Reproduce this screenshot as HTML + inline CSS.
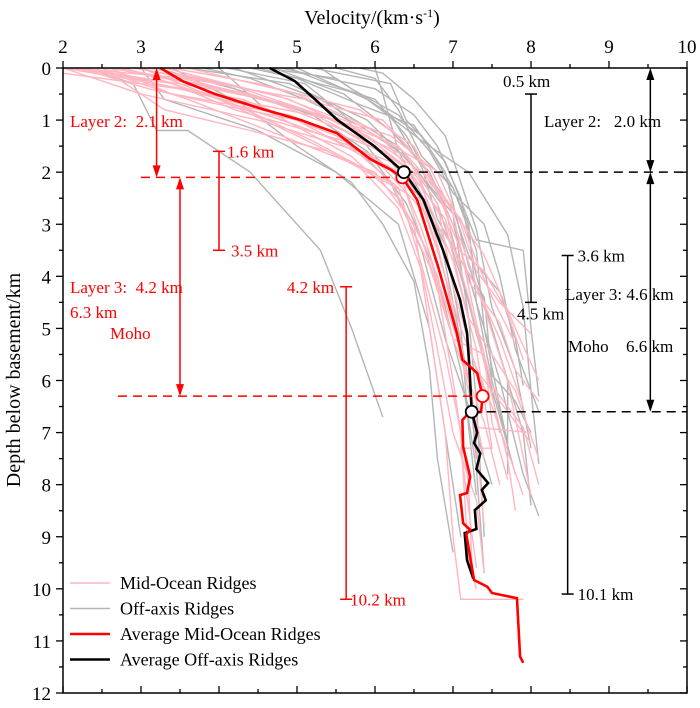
<!DOCTYPE html>
<html><head><meta charset="utf-8"><style>
html,body{margin:0;padding:0;background:#fff;}
svg{display:block;font-family:"Liberation Serif",serif;}
</style></head><body>
<svg id="chart" width="700" height="708" viewBox="0 0 700 708" xmlns="http://www.w3.org/2000/svg">
<g id="bg"></g>
<g id="avg"></g>
<g id="ann"></g>
<g id="axes"></g>
<g id="legend"></g>
</svg>
<script>
const xTicks=[2,3,4,5,6,7,8,9,10];
const yTicks=[0,1,2,3,4,5,6,7,8,9,10,11,12];
const pinkProfiles=[
[2,0,3,0.5,4.5,1,5.8,1.6,6.5,2.2,6.8,3.5,7.1,5,7.5,6.5,7.9,8.2],
[2.3,0,3.8,0.5,5,1.1,6.2,1.8,6.6,2.5,6.9,4,7.2,6,7.4,7.5],
[2.6,0,4,0.4,5.3,0.9,6.4,1.7,6.8,2.6,7.0,4.2,7.3,5.8,8.0,7.2],
[3,0,4.6,0.6,5.6,1.2,6.5,2,6.9,3,7.2,4.8,7.8,6.2,8.1,7.5],
[2.1,0,3.4,0.3,4.2,0.8,5.6,1.4,6.3,2.3,6.6,3.8,6.9,5.5,7.1,7,7.2,9.5,7.3,10],
[3.3,0,4.9,0.6,5.9,1.3,6.7,2.1,7.1,3.3,7.4,4.6,7.7,6,8.0,8.2],
[2.4,0,3.6,0.6,4.8,1.3,6.0,2.0,6.5,3,6.7,5,6.9,7,7.0,9,7.1,10.2,7.9,10.2],
[2.8,0,4.2,0.7,5.2,1.4,6.2,2.2,6.7,3.6,7.0,5.2,7.4,6.8,7.6,8],
[2.2,0,3.1,0.4,4,0.7,5,1,6.1,1.9,6.9,3.2,7.3,4.2,7.6,5.2,7.9,6.5],
[3.6,0,5.0,0.5,6.0,1.2,6.6,2.2,6.9,4,7.1,5.5,7.3,6.9,8.0,7.0],
[2.5,0,3.3,0.8,4.4,1.2,5.4,1.6,6.4,2.4,6.8,4.2,7.0,6,7.2,8,7.25,9.8],
[2.0,0.1,3.5,0.4,5.5,1.0,6.3,1.5,6.9,2.5,7.4,3.6,7.8,5,8.1,6],
[2.7,0,4.4,0.5,5.7,1.1,6.4,1.9,6.9,2.9,7.2,4.4,7.5,6.3,7.7,7.5,7.8,8.5],
[3.1,0,4.1,0.3,5.1,0.8,6.0,1.5,6.6,2.3,7.0,3.7,7.3,5.4,7.5,7.3,7.1,7.3,7.3,9.6],
[2.2,0,3.9,0.4,4.9,0.7,5.9,1.2,6.7,1.9,7.0,2.8,7.2,4.1,7.6,4.9,7.8,5.8,8.1,6.4],
[2.9,0,3.7,0.2,4.7,0.5,5.4,0.9,6.2,1.3,6.8,2.0,7.1,3.0,7.3,3.9,7.6,4.5,8.0,5.1],
[2.0,0,2.8,0.2,4.3,0.6,5.5,1.3,6.3,2.0,6.6,3.1,6.9,4.5,7.2,5.9,7.3,7.2,7.4,8.8],
[3.4,0,4.5,0.3,5.8,0.8,6.5,1.5,6.8,2.4,7.1,3.5,7.3,4.9,7.5,6.1,7.9,6.9,8.1,8.0],
[2.5,0,3.2,0.3,4.6,0.8,5.7,1.7,6.3,2.5,6.7,3.8,7.0,5.2,7.4,5.5,7.5,6.8,7.7,7.9],
[2.1,0,3.6,0.2,5.1,0.6,6.1,1.0,6.6,1.8,6.9,2.6,7.0,3.4,7.4,3.9,7.7,4.7,7.9,5.6],
[3.0,0,4.0,0.6,5.0,1.3,5.8,1.9,6.3,2.7,6.6,3.9,6.8,5.4,7.0,7.0,7.3,8.3,7.4,9.7],
[2.6,0,3.4,0.5,4.9,0.9,6.1,1.6,6.7,2.2,7.1,2.9,7.3,3.7,7.5,4.4,7.8,5.3]
];
const grayProfiles=[
[4.7,0,5.6,0.5,6.2,1.2,6.7,2,7.0,3,7.3,4.5,7.6,6,7.9,7.8,8.1,8.6],
[4.2,0,5.3,0.6,6.3,1.5,6.8,2.6,7.1,4,7.4,5.5,7.6,7],
[5.2,0,6.2,0.3,6.4,1.0,6.9,1.8,7.3,3.3,7.9,3.5,8.0,5,8.1,6.3],
[3.0,0,3.3,0.6,4.5,1.2,5.5,2,6.3,3,6.7,5,6.9,7,7.1,9],
[2.3,0,2.9,0.3,3.2,1.2,3.6,1.2,4.4,2.0,5.3,3.5,5.7,5,6.1,6.7],
[4.8,0,6.0,0.4,6.5,0.9,6.8,1.5,7.1,2.5,7.3,4,7.6,5.5,7.9,7,8.0,8.4],
[4.0,0,4.6,0.8,5.6,1.3,6.2,2.2,6.6,3.5,6.9,5.2,7.2,6.5,7.5,8],
[5.5,0,6.0,0.2,6.3,0.8,6.6,1.7,7.0,2.3,7.2,3,7.3,4.5,7.5,6,7.7,7.2],
[3.6,0,4.9,0.3,5.9,1.0,6.5,1.9,7.0,2.8,7.2,4.8,7.3,6.4,7.4,9.0],
[4.5,0,5.8,0.5,6.6,1.3,7.0,2.3,7.3,3.5,7.4,5,7.6,6.5,7.7,7.2],
[6.0,0,6.1,0.5,6.3,1.6,6.8,3,7.0,4.5,7.2,6,7.3,7.5],
[3.2,0,4.2,0.4,5.2,0.9,5.9,1.6,6.4,2.6,6.8,4,7.1,5.8,7.3,7.7,7.4,9.7],
[5.0,0,5.9,0.6,6.6,1.4,7.2,2.0,7.7,3.2,7.9,4.6,8.0,6.2,8.1,7.6],
[4.4,0,5.0,0.2,5.8,0.7,6.5,1.1,6.9,2.0,7.2,3.8,7.5,5.0,7.7,6.0,7.7,7.8],
[4.9,0,5.4,0.3,6.0,0.6,6.4,1.3,6.7,2.1,7.0,2.7,7.2,3.6,7.6,4.3,7.8,5.2,7.9,6.1],
[3.8,0,4.4,0.2,5.1,0.6,5.8,1.1,6.4,1.7,6.9,2.7,7.1,3.9,7.3,5.1,7.6,6.7,7.8,7.8],
[5.8,0,6.1,0.1,6.5,0.6,6.9,1.3,7.1,2.2,7.3,3.1,7.5,4.6,7.8,5.8,8.0,7.3],
[4.1,0,5.1,0.3,5.6,0.9,6.0,1.7,6.6,2.5,6.9,3.4,7.1,5.0,7.2,6.9,7.3,8.2],
[4.6,0,5.5,0.2,6.2,0.9,6.6,1.9,6.8,2.9,7.1,3.7,7.4,4.4,7.5,5.9,7.8,6.4,8.0,7.0],
[3.4,0,4.3,0.7,5.0,1.5,5.7,2.2,6.1,3.0,6.5,4.1,6.7,5.8,6.8,7.5,7.0,9.3],
[5.3,0,5.7,0.4,6.3,0.9,6.7,1.6,7.0,2.4,7.4,3.0,7.6,4.0,7.8,5.4,8.1,6.6]
];
const avgMidV=[3.25,3.53,3.95,4.58,5.05,5.51,5.94,6.2,6.35,6.54,6.81,7.05,7.12,7.31,7.38,7.36,7.18,7.12,7.13,7.22,7.18,7.09,7.13,7.22,7.17,7.27,7.44,7.5,7.82,7.86,7.9];
const avgMidD=[0,0.25,0.5,0.8,1.0,1.25,1.75,1.95,2.1,2.53,3.82,5.09,5.6,5.86,6.3,6.6,6.66,6.76,7.27,7.85,8.16,8.2,8.74,8.87,8.95,9.83,9.96,10.08,10.18,11.3,11.42];
const avgOffV=[4.65,4.97,5.23,5.52,5.99,6.37,6.62,6.87,7.09,7.18,7.21,7.24,7.31,7.27,7.35,7.3,7.45,7.37,7.42,7.28,7.3,7.15,7.18,7.26];
const avgOffD=[0,0.25,0.6,1.0,1.5,2.0,2.53,3.49,4.45,5.09,5.73,6.6,7.0,7.2,7.4,7.7,7.97,8.1,8.3,8.49,8.85,8.93,9.45,9.8];

const X0=63,X1=687,Y0=68,Y1=693;
const sx=v=>X0+(v-2)/8*(X1-X0);
const sy=d=>Y0+d/12*(Y1-Y0);
const NS="http://www.w3.org/2000/svg";
function mk(tag,attrs,parent){const e=document.createElementNS(NS,tag);for(const k in attrs)e.setAttribute(k,attrs[k]);parent.appendChild(e);return e;}

const bg=document.getElementById('bg');
grayProfiles.forEach((p,i)=>{let pts=[];for(let j=0;j<p.length;j+=2)pts.push(sx(p[j]).toFixed(1)+','+sy(p[j+1]).toFixed(1));
const e=mk('polyline',{points:pts.join(' '),fill:'none',stroke:'#b5b5b5','stroke-width':1.4},bg);

});
pinkProfiles.forEach((p,i)=>{let pts=[];for(let j=0;j<p.length;j+=2)pts.push(sx(p[j]).toFixed(1)+','+sy(p[j+1]).toFixed(1));
const e=mk('polyline',{points:pts.join(' '),fill:'none',stroke:'#ffb6c1','stroke-width':1.4},bg);

});

const avg=document.getElementById('avg');
let e1=mk('polyline',{points:avgOffV.map((v,i)=>sx(v)+','+sy(avgOffD[i])).join(' '),fill:'none',stroke:'#000','stroke-width':2.6},avg);


let e2=mk('polyline',{points:avgMidV.map((v,i)=>sx(v)+','+sy(avgMidD[i])).join(' '),fill:'none',stroke:'#f00','stroke-width':2.6},avg);



const ann=document.getElementById('ann');
function line(x1,y1,x2,y2,c,w,dash,name){const e=mk('line',{x1,y1,x2,y2,stroke:c,'stroke-width':w||1.5},ann);if(dash)e.setAttribute('stroke-dasharray',dash);return e;}
function text(x,y,s,c,name,anchor){const e=mk('text',{x,y,fill:c,'font-size':17,'text-anchor':anchor||'start'},ann);e.setAttribute('xml:space','preserve');e.style.whiteSpace='pre';e.textContent=s;return e;}
function arrowHead(x,y,dir,c){const h=12*dir;const e=mk('polygon',{points:`${x},${y} ${x-4},${y+h} ${x+4},${y+h}`,fill:c},ann);}
function darrow(x,y1,y2,c,name){line(x,y1+2,x,y2-2,c,1.5,null,name);arrowHead(x,y1,1,c);arrowHead(x,y2,-1,c);}
function bar(x,y1,y2,c,name){line(x,y1,x,y2,c,1.5,null,name);line(x-6,y1,x+6,y1,c,1.5,null,name+'-cap-top');line(x-6,y2,x+6,y2,c,1.5,null,name+'-cap-bottom');}
function circ(v,d,c,name){const e=mk('circle',{cx:sx(v),cy:sy(d),r:6,fill:'#fff',stroke:c,'stroke-width':1.8},ann);}
const R='#f00',K='#000';
line(sx(3.0),sy(2.1),sx(6.35),sy(2.1),R,1.5,'9,6','mid-layer2-dashed');
line(118,sy(6.3),sx(7.38),sy(6.3),R,1.5,'9,6','mid-moho-dashed');
darrow(sx(3.2),sy(0),sy(2.1),R,'mid-layer2-arrow');
darrow(sx(3.5),sy(2.1),sy(6.3),R,'mid-layer3-arrow');
text(70,127,'Layer 2:  2.1 km',R,'mid-layer2-label');
text(70,293,'Layer 3:  4.2 km',R,'mid-layer3-label');
text(70,318,'6.3 km',R,'mid-moho-depth-label');
text(110,339,'Moho',R,'mid-moho-label');
bar(sx(4.0),sy(1.6),sy(3.5),R,'mid-layer2-range');
text(sx(4.0)+8,sy(1.6)+6,'1.6 km',R,'mid-1.6-label');
text(sx(4.0)+12,sy(3.5)+6,'3.5 km',R,'mid-3.5-label');
bar(sx(5.63),sy(4.2),sy(10.2),R,'mid-layer3-range');
text(sx(5.63)-12,sy(4.2)+6,'4.2 km',R,'mid-4.2-label','end');
text(sx(5.63)+4,sy(10.2)+6,'10.2 km',R,'mid-10.2-label');
line(sx(6.37),sy(2.0),X1,sy(2.0),K,1.5,'9,6','off-layer2-dashed');
line(sx(7.24),sy(6.6),X1,sy(6.6),K,1.5,'9,6','off-moho-dashed');
darrow(sx(9.53),sy(0),sy(2.0),K,'off-layer2-arrow');
darrow(sx(9.53),sy(2.0),sy(6.6),K,'off-layer3-arrow');
text(544,127,'Layer 2:   2.0 km',K,'off-layer2-label');
text(565,300,'Layer 3: 4.6 km',K,'off-layer3-label');
text(568,352,'Moho',K,'off-moho-label');
text(626,352,'6.6 km',K,'off-moho-depth-label');
bar(sx(8.0),sy(0.5),sy(4.5),K,'off-layer2-range');
text(sx(8.0)-28,sy(0.5)-7,'0.5 km',K,'off-0.5-label');
text(sx(8.0)-14,sy(4.5)+17,'4.5 km',K,'off-4.5-label');
bar(sx(8.47),sy(3.6),sy(10.1),K,'off-layer3-range');
text(sx(8.47)+10,sy(3.6)+6,'3.6 km',K,'off-3.6-label');
text(sx(8.47)+10,sy(10.1)+6,'10.1 km',K,'off-10.1-label');
circ(6.35,2.1,R,'mid-layer2-marker');
circ(6.37,2.0,K,'off-layer2-marker');
circ(7.38,6.3,R,'mid-moho-marker');
circ(7.24,6.6,K,'off-moho-marker');

const ax=document.getElementById('axes');
let fr=mk('rect',{x:X0,y:Y0,width:X1-X0,height:Y1-Y0,fill:'none',stroke:'#000','stroke-width':1.5},ax);

for(let v=2;v<=10.001;v+=0.5){const maj=Math.abs(v-Math.round(v))<1e-6;const x=sx(v);
const L=maj?7:4;
mk('line',{x1:x,y1:Y0,x2:x,y2:Y0-L,stroke:'#000','stroke-width':1.3},ax);
mk('line',{x1:x,y1:Y1,x2:x,y2:Y1-L,stroke:'#000','stroke-width':1.3},ax);}
xTicks.forEach(v=>{const e=mk('text',{x:sx(v),y:53,'font-size':19,'text-anchor':'middle'},ax);e.textContent=v;
});
for(let d=0;d<=12.001;d+=0.5){const maj=Math.abs(d-Math.round(d))<1e-6;const y=sy(d);const L=maj?7:4;
mk('line',{x1:X0,y1:y,x2:X0-L,y2:y,stroke:'#000','stroke-width':1.3},ax);
mk('line',{x1:X1,y1:y,x2:X1-L,y2:y,stroke:'#000','stroke-width':1.3},ax);}
yTicks.forEach(d=>{const e=mk('text',{x:51,y:sy(d)+7,'font-size':19,'text-anchor':'end'},ax);e.textContent=d;
});
let xt=mk('text',{x:372,y:24,'font-size':20,'text-anchor':'middle'},ax);
xt.innerHTML='Velocity/(km·s<tspan dy="-7" font-size="12">-1</tspan><tspan dy="7">)</tspan>';

let yt=mk('text',{x:0,y:0,'font-size':20,'text-anchor':'middle',transform:'translate(20,380) rotate(-90)'},ax);
yt.textContent='Depth below basement/km';


const lg=document.getElementById('legend');
const legItems=[['Mid-Ocean Ridges','#ffb6c1',1.5],['Off-axis Ridges','#b5b5b5',1.5],['Average Mid-Ocean Ridges','#f00',2.6],['Average Off-axis Ridges','#000',2.6]];
legItems.forEach((it,i)=>{const y=583+i*25.5;
const g=mk('g',{},lg);


mk('line',{x1:70,y1:y,x2:110,y2:y,stroke:it[1],'stroke-width':it[2]},g);
const t=mk('text',{x:120,y:y+6,'font-size':18},g);t.textContent=it[0];});
</script>
</body></html>
